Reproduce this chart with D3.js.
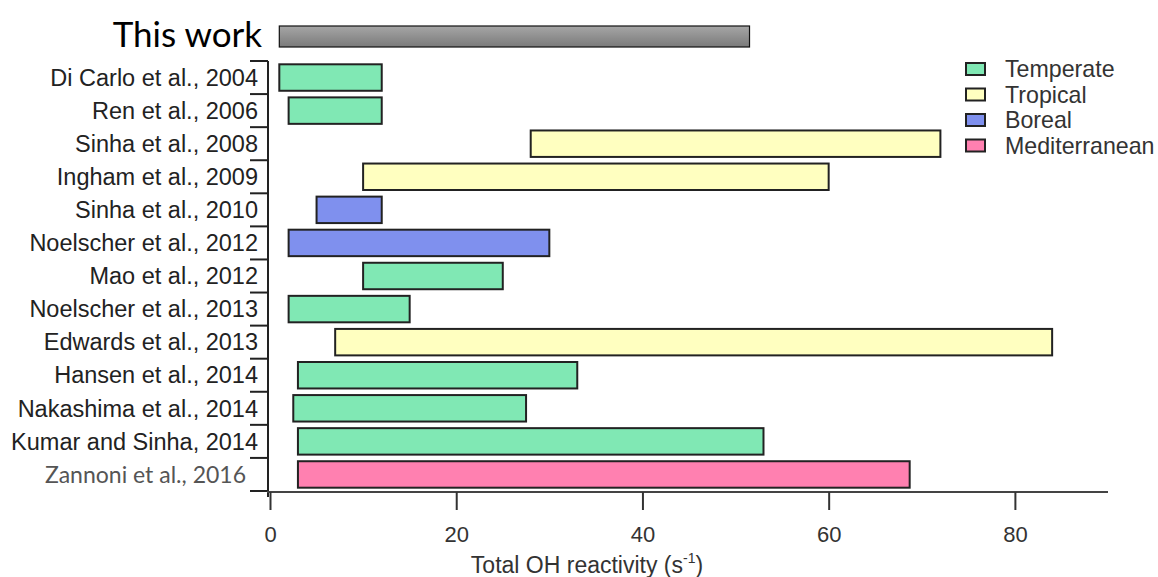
<!DOCTYPE html>
<html><head><meta charset="utf-8">
<script src="https://cdn.jsdelivr.net/npm/d3@7"></script>
<style>body{margin:0;background:#fff}svg{display:block}</style>
</head><body>
<svg id="c" width="1158" height="577"></svg>
<script>
const studies = ["Di Carlo et al., 2004","Ren et al., 2006","Sinha et al., 2008","Ingham et al., 2009","Sinha et al., 2010","Noelscher et al., 2012","Mao et al., 2012","Noelscher et al., 2013","Edwards et al., 2013","Hansen et al., 2014","Nakashima et al., 2014","Kumar and Sinha, 2014","Zannoni et al., 2016"];
const lowValues  = [1, 2, 28, 10, 5, 2, 10, 2, 7, 3, 2.5, 3, 3];
const highValues = [12, 12, 72, 60, 12, 30, 25, 15, 84, 33, 27.5, 53, 68.7];
const ecosystems = ["Temperate","Temperate","Tropical","Tropical","Boreal","Boreal","Temperate","Temperate","Tropical","Temperate","Temperate","Temperate","Mediterranean"];
const legendLabels = ["Temperate","Tropical","Boreal","Mediterranean"];
const legendColors = ["#80e8b4","#ffffc0","#7f90ee","#ff80b0"];
const thisWork = [1, 51.5];
const xTicks = [0, 20, 40, 60, 80];

const svg = d3.select("#c");
const x = d3.scaleLinear().domain([0, 90]).range([270, 1108]);
const y = d3.scaleBand().domain(studies).range([61, 491]).padding(0);
const color = d3.scaleOrdinal().domain(legendLabels).range(legendColors);

const defs = svg.append("defs");
const g = defs.append("linearGradient").attr("id","grey").attr("x1",0).attr("y1",0).attr("x2",0).attr("y2",1);
g.append("stop").attr("offset","0%").attr("stop-color","#a6a6a6");
g.append("stop").attr("offset","100%").attr("stop-color","#7a7a7a");

// bars
const data = studies.map((s,i)=>({s, lo:lowValues[i], hi:highValues[i], e:ecosystems[i]}));
const bw = y.bandwidth();
svg.append("g").selectAll("rect").data(data).join("rect")
  .attr("x", d=>x(d.lo)).attr("width", d=>x(d.hi)-x(d.lo))
  .attr("y", d=>y(d.s)+bw*0.1).attr("height", bw*0.8)
  .attr("fill", d=>color(d.e)).attr("stroke","#222").attr("stroke-width",2);

// this work
svg.append("rect").attr("x", x(thisWork[0])).attr("width", x(thisWork[1])-x(thisWork[0]))
  .attr("y", 26).attr("height", 21).attr("fill","url(#grey)").attr("stroke","#111").attr("stroke-width",1.2);
svg.append("text").attr("x", 262).attr("y", 47).attr("text-anchor","end")
  .attr("font-family","Lato, 'Open Sans', sans-serif").attr("font-size",35).attr("fill","#000").text("This work");

// y axis
const F = "'Liberation Sans', Arial, sans-serif";
const yAxisG = svg.append("g").attr("transform","translate(268,0)");
yAxisG.append("line").attr("x1",0).attr("x2",0).attr("y1",y.range()[0]).attr("y2",497).attr("stroke","#222").attr("stroke-width",2);
const bounds = studies.map(s=>y(s)).concat([y.range()[1]]);
yAxisG.selectAll(".bt").data(bounds).join("line").attr("class","bt")
  .attr("x1",-18).attr("x2",0).attr("y1",d=>d).attr("y2",d=>d).attr("stroke","#222").attr("stroke-width",2);
yAxisG.selectAll(".lab").data(studies).join("text").attr("class","lab")
  .attr("x", d=> d.startsWith("Zannoni") ? -22 : -10)
  .attr("y", d=>y(d)+bw/2).attr("dy","0.35em").attr("text-anchor","end")
  .attr("font-family", d=> d.startsWith("Zannoni") ? "Lato, 'Open Sans', sans-serif" : F)
  .attr("font-size", d=> d.startsWith("Zannoni") ? 23 : 23.5)
  .attr("fill", d=> d.startsWith("Zannoni") ? "#555" : "#222")
  .text(d=>d);

// x axis
const xAxis = d3.axisBottom(x).tickValues(xTicks).tickSize(18).tickPadding(16).tickSizeOuter(0);
const xg = svg.append("g").attr("transform","translate(0,492)").call(xAxis);
xg.select(".domain").attr("d", `M267,0H1108`).attr("stroke","#444").attr("stroke-width",2);
xg.selectAll(".tick line").attr("stroke","#333").attr("stroke-width",2);
xg.selectAll(".tick text").attr("font-family",F).attr("font-size",22).attr("fill","#333");

const t = svg.append("text").attr("x", 587).attr("y", 573).attr("text-anchor","middle")
  .attr("font-family",F).attr("font-size",23).attr("fill","#333");
t.append("tspan").text("Total OH reactivity (s");
t.append("tspan").attr("dy",-10).attr("font-size",14).text("-1");
t.append("tspan").attr("dy",10).text(")");

// legend
const lg = svg.append("g").attr("transform","translate(965,58)");
const li = lg.selectAll("g").data(legendLabels).join("g").attr("transform",(d,i)=>`translate(0,${i*25.5})`);
li.append("rect").attr("x",1).attr("y",5).attr("width",19).attr("height",12).attr("fill",d=>color(d)).attr("stroke","#222").attr("stroke-width",2);
li.append("text").attr("x",40).attr("y",11).attr("dy","0.35em").attr("font-family",F).attr("font-size",23.2).attr("fill","#333").text(d=>d);
</script>
</body></html>
